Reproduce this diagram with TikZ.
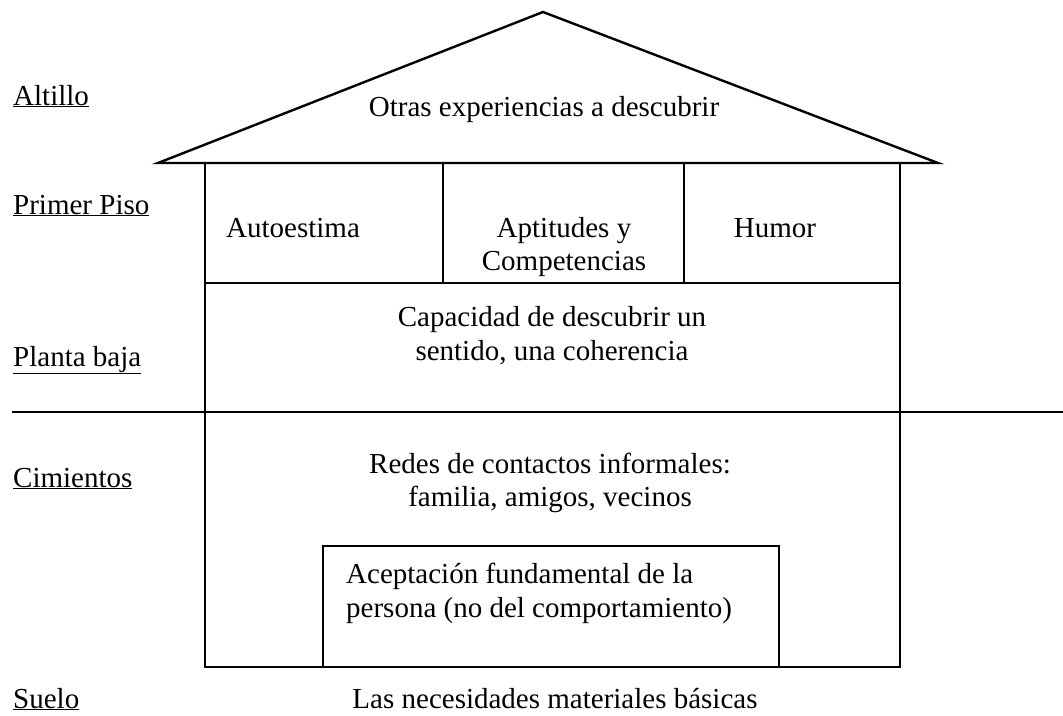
\documentclass[tikz,border=0pt]{standalone}
\usepackage{fontspec}
\setmainfont{Liberation Serif}
\begin{document}
\begin{tikzpicture}[x=1pt,y=-1pt,line width=2.4pt,line join=miter,
  txt/.style={font=\fontsize{29}{34}\selectfont,inner sep=0pt},
  lvl/.style={txt,anchor=base west},
  ctr/.style={txt,anchor=base},
  lft/.style={txt,anchor=base west}]
\useasboundingbox (0,0) rectangle (1063,715);
% house outline
\coordinate (apex) at (543,12);
\coordinate (eaveL) at (158,163);
\coordinate (eaveR) at (938,163);
\coordinate (bodyNW) at (205,163);
\coordinate (bodySE) at (900,667);
\draw (eaveL) -- (apex) -- (eaveR) -- cycle;
\draw (bodyNW) rectangle (bodySE);
\coordinate (floorL) at (205,283);
\coordinate (floorR) at (900,283);
\draw (floorL) -- (floorR);
\coordinate (d1t) at (443,163); \coordinate (d1b) at (443,283);
\coordinate (d2t) at (684,163); \coordinate (d2b) at (684,283);
\draw (d1t) -- (d1b);
\draw (d2t) -- (d2b);
\coordinate (groundL) at (12,412);
\coordinate (groundR) at (1063,412);
\draw (groundL) -- (groundR);
\coordinate (innerNW) at (323,546);
\coordinate (innerSE) at (779,667);
\draw (innerNW) rectangle (innerSE);
% level labels
\node[lvl] (altillo) at (12,105) {\underline{Altillo}};
\node[lvl] (primer) at (12,214) {\underline{Primer Piso}};
\node[lvl] (planta) at (12,366) {\underline{Planta baja}};
\node[lvl] (cimientos) at (12,487) {\underline{Cimientos}};
\node[lvl] (suelo) at (12,708) {\underline{Suelo}};
% contents
\node[ctr] (otras) at (544,116) {Otras experiencias a descubrir};
\node[lft] (auto) at (225,237) {Autoestima};
\node[ctr] (apt1) at (564,237) {Aptitudes y};
\node[ctr] (apt2) at (564,270) {Competencias};
\node[ctr] (humor) at (775,237) {Humor};
\node[ctr] (cap1) at (552,326) {Capacidad de descubrir un};
\node[ctr] (cap2) at (552,360) {sentido, una coherencia};
\node[ctr] (red1) at (550,473) {Redes de contactos informales:};
\node[ctr] (red2) at (550,506) {familia, amigos, vecinos};
\node[lft] (ace1) at (345,583) {Aceptación fundamental de la};
\node[lft] (ace2) at (345,617) {persona (no del comportamiento)};
\node[ctr] (suelotxt) at (555,708) {Las necesidades materiales básicas};
\end{tikzpicture}
\end{document}
